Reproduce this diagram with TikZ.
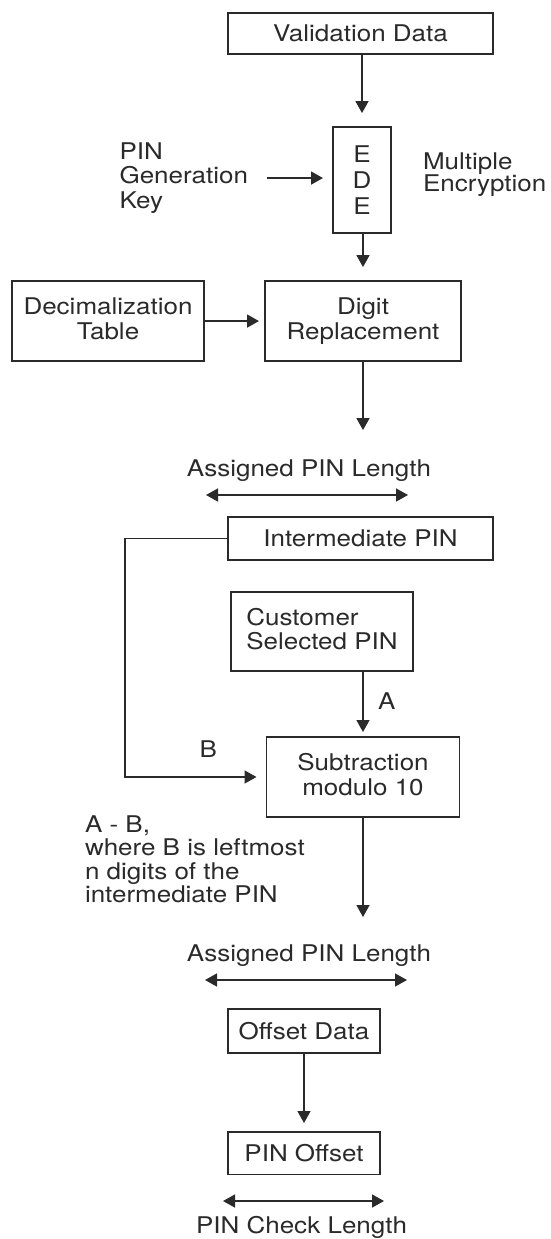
\documentclass[tikz,border=0pt]{standalone}
\usepackage{fontspec}
\setmainfont{TeX Gyre Heros}[FakeStretch=1.13]
\usepackage{xcolor}
\usetikzlibrary{arrows.meta,positioning}
\definecolor{ink}{HTML}{2A2A2A}
\tikzset{
	block/.style={draw=ink, line width=1.6pt, inner sep=0pt, outer sep=0pt, align=center, text=ink},
	twoline/.style={block, text depth=5pt},
	note/.style={inner sep=0pt, outer sep=0pt, text=ink},
	arr/.style={draw=ink, line width=1.6pt, -{Triangle[length=12pt,width=13pt]}},
	dbl/.style={draw=ink, line width=1.6pt, {Triangle[length=12pt,width=13pt]}-{Triangle[length=12pt,width=13pt]}}
}
\newcommand{\connectblocks}[3]{
	\draw[arr, shorten >=#1] (#2) -- (#3);
}
\begin{document}
\begin{tikzpicture}[x=1pt, y=-1pt, font=\fontsize{23}{24.5}\selectfont]
	\useasboundingbox (0,0) rectangle (550,1239);

	\node[block, minimum width=265pt, minimum height=41.3pt] (valdata) at (360.5,33.4) {Validation Data};
	\node[block, minimum width=58pt, minimum height=106pt, font=\fontsize{23}{26}\selectfont,
		below=73pt of valdata, xshift=1.5pt] (ede) {E\\D\\E};
	\node[note, align=left, left=85pt of ede, yshift=2pt] (pinkey) {PIN\\Generation\\Key};
	\node[note, align=left, right=32pt of ede, yshift=5pt, font=\fontsize{23}{22}\selectfont] (multenc) {Multiple\\Encryption};

	\node[twoline, minimum width=196pt, minimum height=80pt, below=48pt of ede, xshift=1pt] (digit) {Digit\\Replacement};
	\node[twoline, minimum width=192pt, minimum height=80pt, left=61pt of digit] (decimal) {Decimalization\\Table};
	\coordinate[below=69pt of digit] (digitout);

	\node[note] (assign1) at (309,470.5) {Assigned PIN Length};
	\coordinate (assign1l) at (206,495);
	\coordinate (assign1r) at (408,495);

	\node[block, minimum width=265pt, minimum height=43pt] (interm) at (360.5,538.5) {Intermediate PIN};
	\node[twoline, align=left, minimum width=182pt, minimum height=79pt,
		below=31.7pt of interm, xshift=-38.5pt] (customer) {Customer\\Selected PIN};
	\node[twoline, minimum width=193pt, minimum height=80pt,
		below=66.3pt of customer, xshift=41pt] (subtr) {Subtraction\\modulo 10};
	\node[note] (alabel) at (386.7,701.5) {A};
	\node[note] (blabel) at (208.3,748.7) {B};
	\node[note, align=left, anchor=north west, font=\fontsize{23}{23.4}\selectfont] (amb) at (85,815.5)
		{A - B,\\where B is leftmost\\n digits of the\\intermediate PIN};
	\coordinate[below=100pt of subtr] (subtrout);

	\node[note] (assign2) at (309,955.5) {Assigned PIN Length};
	\coordinate (assign2l) at (205,980);
	\coordinate (assign2r) at (407,980);

	\node[block, minimum width=152pt, minimum height=44pt] (offset) at (304,1031) {Offset Data};
	\node[block, minimum width=152pt, minimum height=42.5pt, below=79pt of offset] (pinoff) {PIN Offset};
	\coordinate (checkl) at (223,1201);
	\coordinate (checkr) at (384,1201);
	\node[note] (check) at (301.5,1227.5) {PIN Check Length};

	% connectors
	\connectblocks{14pt}{ede.north |- valdata.south}{ede.north}
	\draw[arr, shorten <=19pt, shorten >=10pt] (pinkey.east) -- (pinkey.east -| ede.west);
	\connectblocks{14pt}{digit.north |- ede.south}{digit.north}
	\connectblocks{6pt}{decimal.east}{digit.west}
	\connectblocks{0pt}{digit.south}{digitout}
	\draw[dbl] (assign1l) -- (assign1r);

	\draw[arr, shorten >=10pt] (interm.west) -- ++(-103pt,0) |- (subtr.west);
	\connectblocks{5pt}{subtr.north |- customer.south}{subtr.north}
	\connectblocks{0pt}{subtr.south}{subtrout}
	\draw[dbl] (assign2l) -- (assign2r);

	\connectblocks{9pt}{offset.south}{pinoff.north}
	\draw[dbl] (checkl) -- (checkr);
\end{tikzpicture}
\end{document}
